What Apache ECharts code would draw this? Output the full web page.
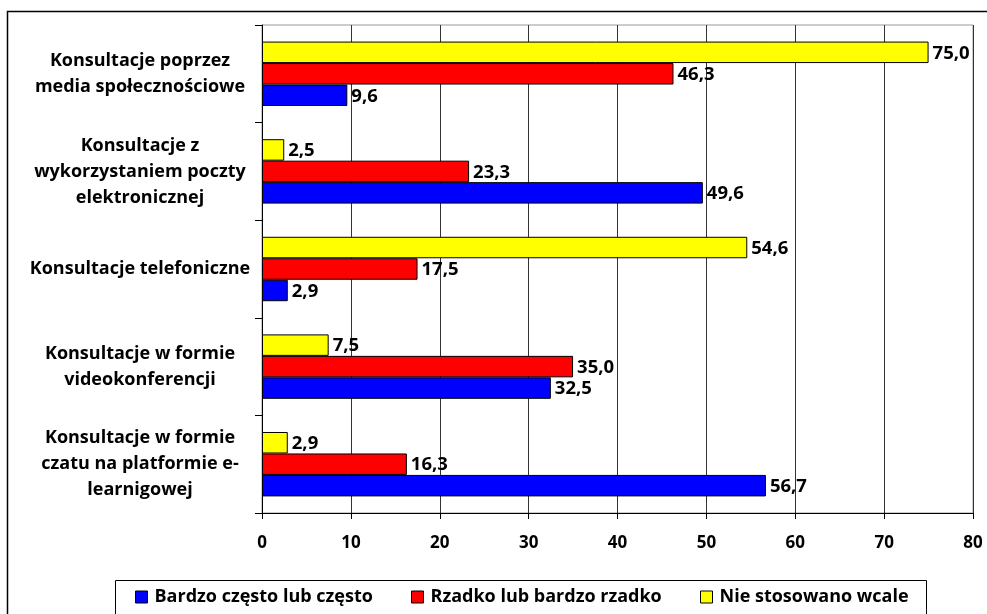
<!DOCTYPE html>
<html>
<head>
<meta charset="utf-8">
<script src="https://cdn.jsdelivr.net/npm/echarts@6/dist/echarts.min.js"></script>
<style>
html,body{margin:0;padding:0;background:#fff;}
#chart{width:987px;height:614px;}
</style>
</head>
<body>
<div id="chart"></div>
<script>
const categories = [
  "Konsultacje poprzez\nmedia społecznościowe",
  "Konsultacje z\nwykorzystaniem poczty\nelektronicznej",
  "Konsultacje telefoniczne",
  "Konsultacje w formie\nvideokonferencji",
  "Konsultacje w formie\nczatu na platformie e-\nlearnigowej"
];
const seriesNames = ["Bardzo często lub często", "Rzadko lub bardzo rzadko", "Nie stosowano wcale"];
const oftenValues = [9.6, 49.6, 2.9, 32.5, 56.7];
const rarelyValues = [46.3, 23.3, 17.5, 35.0, 16.3];
const neverValues = [75.0, 2.5, 54.6, 7.5, 2.9];
const xTicks = [0, 10, 20, 30, 40, 50, 60, 70, 80];

const FONT = "Open Sans";
const colors = ["#0000FF", "#FF0000", "#FFFF00"];
const values = [oftenValues, rarelyValues, neverValues];

const chart = echarts.init(document.getElementById('chart'), null, {renderer: 'canvas'});

// drawn top-to-bottom within a group: yellow, red, blue
const order = [2, 1, 0];
const series = order.map(i => ({
  name: seriesNames[i],
  type: 'bar',
  data: values[i],
  barGap: '0%',
  barCategoryGap: '34%',
  itemStyle: {color: colors[i], borderColor: '#000', borderWidth: 1},
  label: {
    show: true,
    position: 'right',
    distance: 4,
    color: '#000',
    fontFamily: FONT,
    fontWeight: 'bold',
    fontSize: 18.5,
    offset: [0, 1],
    formatter: p => p.value.toFixed(1).replace('.', ',')
  },
  emphasis: {disabled: true},
  animation: false
}));

const legendLefts = [135, 411, 700];
const legends = seriesNames.map((n, i) => ({
  data: [n],
  left: legendLefts[i],
  top: 588,
  padding: 0,
  itemWidth: 12,
  itemHeight: 12,
  itemGap: 6,
  icon: 'rect',
  itemStyle: {borderColor: '#000', borderWidth: 1},
  textStyle: {fontFamily: FONT, fontWeight: 'bold', fontSize: 18, color: '#000', padding: [0, 0, 0, 2]},
  selectedMode: false
}));

chart.setOption({
  backgroundColor: '#fff',
  animation: false,
  graphic: [
    {type: 'rect', shape: {x: 7.5, y: 11.5, width: 1000, height: 700}, style: {fill: 'none', stroke: '#000', lineWidth: 1.5}, silent: true, z: -1},
    {type: 'rect', shape: {x: 115.5, y: 580.5, width: 811, height: 60}, style: {fill: 'none', stroke: '#000', lineWidth: 1}, silent: true, z: -1}
  ],
  grid: {left: 262, right: 14, top: 25, bottom: 101, show: true, borderColor: '#999', borderWidth: 1, backgroundColor: 'transparent'},
  legend: legends,
  xAxis: {
    type: 'value',
    min: xTicks[0],
    max: xTicks[xTicks.length - 1],
    interval: 10,
    axisLine: {show: true, lineStyle: {color: '#000', width: 1}},
    axisTick: {show: true, length: 6, lineStyle: {color: '#000'}},
    axisLabel: {margin: 22, color: '#000', fontFamily: FONT, fontWeight: 'bold', fontSize: 17},
    splitLine: {show: true, lineStyle: {color: '#333', width: 1}}
  },
  yAxis: {
    type: 'category',
    data: categories,
    inverse: true,
    axisLine: {show: true, lineStyle: {color: '#000', width: 1}},
    axisTick: {show: true, length: 7, lineStyle: {color: '#000'}},
    axisLabel: {margin: 122, align: 'center', color: '#000', fontFamily: FONT, fontWeight: 'bold', fontSize: 18, lineHeight: 26, padding: [7, 0, 0, 0]},
    splitLine: {show: false}
  },
  series: series
});
</script>
</body>
</html>
